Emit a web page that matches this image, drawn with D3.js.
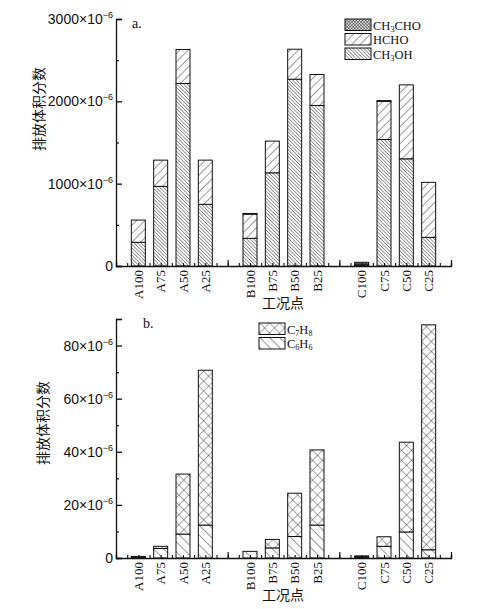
<!DOCTYPE html>
<html>
<head>
<meta charset="utf-8">
<script src="https://cdn.jsdelivr.net/npm/d3@7"></script>
<style>
  body { margin: 0; background: #fff; }
  svg { font-family: "Liberation Serif", "Times New Roman", serif; }
  .cjk { font-family: "Noto Sans CJK SC", sans-serif; }
</style>
</head>
<body>
<div id="chart"></div>
<script>
// operating points
const categories = ["A100","A75","A50","A25","B100","B75","B50","B25","C100","C75","C50","C25"];

// panel a (x10^-6)
const ch3oh  = [288, 967, 2217, 749, 336, 1132, 2269, 1950, 10, 1537, 1302, 348];
const hcho   = [270, 319, 413, 537, 294, 385, 364, 376, 15, 462, 898, 668];
const ch3cho = [0, 0, 0, 0, 8, 0, 0, 0, 20, 10, 0, 0];

// panel b (x10^-6)
const c6h6 = [0.3, 3.6, 9.0, 12.4, 2.5, 3.8, 8.1, 12.4, 0.4, 4.4, 9.8, 3.1];
const c7h8 = [0.3, 0.8, 22.6, 58.3, 0.0, 3.2, 16.3, 28.3, 0.4, 3.6, 33.8, 84.7];

const ticksA = [0, 1000, 2000, 3000];
const ticksB = [0, 20, 40, 60, 80];

const W = 478, H = 609;
const svg = d3.select("#chart").append("svg")
    .attr("width", W).attr("height", H);

svg.append("rect").attr("width", W).attr("height", H).attr("fill", "#fff");

// hatch patterns
const defs = svg.append("defs");
function hatch(id, spacing, angles, sw, bg) {
    angles.forEach((a, k) => {
        const p = defs.append("pattern")
            .attr("id", k == 0 ? id : id + "_" + k)
            .attr("patternUnits", "userSpaceOnUse")
            .attr("width", spacing).attr("height", spacing)
            .attr("patternTransform", "rotate(" + a + ")");
        if (k == 0) p.append("rect").attr("width", spacing).attr("height", spacing).attr("fill", bg || "#fff");
        p.append("line").attr("x1", 0).attr("y1", 0).attr("x2", 0).attr("y2", spacing)
            .attr("stroke", "#222").attr("stroke-width", sw);
    });
}
hatch("pCH3OH", 2.5, [-45], 0.9);
hatch("pHCHO", 6, [45], 0.9);
hatch("pCH3CHO", 2.2, [45, -45], 0.8, "#ddd");
hatch("pC7H8", 7, [45, -45], 0.8);
hatch("pC6H6", 7, [-45], 0.9);

function fillFor(id, cross) {
    return cross ? [id, id + "_1"] : [id];
}

const slot = i => i + 1 + Math.floor(i / 4);   // gap after every four bars
const x = d3.scaleLinear().domain([0, 15]).range([116, 451]);
const barW = 14;

function panel(cfg) {
    const g = svg.append("g");
    const y = d3.scaleLinear().domain(cfg.domain).range([cfg.bottom, cfg.top]);

    const rows = categories.map((c, i) => {
        const r = {cat: c, i: i};
        cfg.series.forEach(s => r[s.key] = s.values[i]);
        return r;
    });
    const stack = d3.stack().keys(cfg.series.map(s => s.key))(rows);

    stack.forEach((layer, li) => {
        const s = cfg.series[li];
        fillFor(s.pat, s.cross).forEach((pid, k) => {
            g.append("g").selectAll("rect")
                .data(layer)
                .join("rect")
                .attr("x", d => x(slot(d.data.i)) - barW / 2)
                .attr("y", d => y(d[1]))
                .attr("width", barW)
                .attr("height", d => Math.max(0, y(d[0]) - y(d[1])))
                .attr("fill", "url(#" + pid + ")")
                .attr("stroke", k == 0 ? "#111" : "none")
                .attr("stroke-width", 1);
        });
    });

    // y axis
    const yAxis = d3.axisLeft(y)
        .tickValues(cfg.ticks)
        .tickSize(-6)
        .tickPadding(3)
        .tickFormat("");
    const ya = g.append("g").attr("transform", `translate(${x(0)},0)`).call(yAxis);
    ya.select(".domain").attr("stroke", "#111").attr("stroke-width", 1.3);
    ya.selectAll("line").attr("stroke", "#111").attr("stroke-width", 1.3);
    ya.selectAll("text").each(function(d) {
        const t = d3.select(this).attr("font-size", 14).attr("fill", "#111");
        if (d == 0) { t.text("0"); return; }
        t.append("tspan").text(d + "×10");
        t.append("tspan").attr("dy", -6).attr("font-size", 9).text("−6");
    });
    const yMinor = d3.axisLeft(y).tickValues(cfg.minor).tickSize(-3).tickFormat("");
    const ym = g.append("g").attr("transform", `translate(${x(0)},0)`).call(yMinor);
    ym.select(".domain").remove();
    ym.selectAll("line").attr("stroke", "#111").attr("stroke-width", 1.2);

    // x axis
    const xMinor = d3.axisBottom(x).tickValues(d3.range(0, 15.01, 0.5)).tickSize(-3).tickFormat("");
    const xm = g.append("g").attr("transform", `translate(0,${cfg.bottom})`).call(xMinor);
    xm.select(".domain").attr("stroke", "#111").attr("stroke-width", 1.3);
    xm.selectAll("line").attr("stroke", "#111").attr("stroke-width", 1.1);
    const xMajor = d3.axisBottom(x).tickValues([0, 5, 10, 15]).tickSize(-6).tickFormat("");
    const xM = g.append("g").attr("transform", `translate(0,${cfg.bottom})`).call(xMajor);
    xM.select(".domain").remove();
    xM.selectAll("line").attr("stroke", "#111").attr("stroke-width", 1.2);

    // rotated category labels
    g.append("g").selectAll("text")
        .data(categories)
        .join("text")
        .attr("transform", (d, i) => `translate(${x(slot(i))},${cfg.bottom + 4}) rotate(-90)`)
        .attr("text-anchor", "end")
        .attr("dy", "0.35em")
        .attr("font-size", 13)
        .attr("fill", "#111")
        .text(d => d);

    // axis titles
    g.append("text").attr("class", "cjk")
        .attr("x", 283).attr("y", cfg.bottom + 42)
        .attr("text-anchor", "middle").attr("font-size", 14).attr("fill", "#111")
        .text("工况点");
    g.append("text").attr("class", "cjk")
        .attr("transform", `translate(${cfg.yTitle[0]},${cfg.yTitle[1]}) rotate(-90)`)
        .attr("text-anchor", "middle").attr("dy", "0.35em")
        .attr("font-size", 14).attr("fill", "#111")
        .text("排放体积分数");

    // panel letter
    g.append("text").attr("x", cfg.letter[0]).attr("y", cfg.letter[1])
        .attr("font-size", 14).attr("fill", "#111").text(cfg.label);

    // legend
    const lg = g.append("g").attr("transform", `translate(${cfg.legend[0]},${cfg.legend[1]})`);
    cfg.legendItems.forEach((s, k) => {
        const row = lg.append("g").attr("transform", `translate(0,${k * cfg.legendStep})`);
        fillFor(s.pat, s.cross).forEach((pid, j) => {
            row.append("rect").attr("width", 26).attr("height", 11.5)
                .attr("fill", "url(#" + pid + ")")
                .attr("stroke", j == 0 ? "#111" : "none").attr("stroke-width", 1);
        });
        const t = row.append("text").attr("x", 28).attr("y", 10.5)
            .attr("font-size", 12.5).attr("fill", "#111");
        s.name.forEach(part => {
            const sp = t.append("tspan").text(part[0]);
            if (part[1]) sp.attr("font-size", 8).attr("dy", 2);
            else if (part[2]) sp.attr("dy", -2);
        });
    });
}

const sCH3OH  = {key: "CH3OH", values: ch3oh, pat: "pCH3OH", name: [["CH"], ["3", 1], ["OH", 0, 1]]};
const sHCHO   = {key: "HCHO", values: hcho, pat: "pHCHO", name: [["HCHO"]]};
const sCH3CHO = {key: "CH3CHO", values: ch3cho, pat: "pCH3CHO", cross: true, name: [["CH"], ["3", 1], ["CHO", 0, 1]]};
const sC6H6   = {key: "C6H6", values: c6h6, pat: "pC6H6", name: [["C"], ["6", 1], ["H", 0, 1], ["6", 1]]};
const sC7H8   = {key: "C7H8", values: c7h8, pat: "pC7H8", cross: true, name: [["C"], ["7", 1], ["H", 0, 1], ["8", 1]]};

panel({
    domain: [0, 3000], top: 19, bottom: 266,
    ticks: ticksA, minor: [500, 1500, 2500],
    series: [sCH3OH, sHCHO, sCH3CHO],
    legendItems: [sCH3CHO, sHCHO, sCH3OH],
    legend: [345, 19], legendStep: 14.5,
    letter: [132, 28], label: "a.", yTitle: [39, 109]
});

panel({
    domain: [0, 90], top: 319, bottom: 558,
    ticks: ticksB, minor: [10, 30, 50, 70, 90],
    series: [sC6H6, sC7H8],
    legendItems: [sC7H8, sC6H6],
    legend: [259, 323], legendStep: 14.5,
    letter: [143, 328], label: "b.", yTitle: [43, 423]
});
</script>
</body>
</html>
